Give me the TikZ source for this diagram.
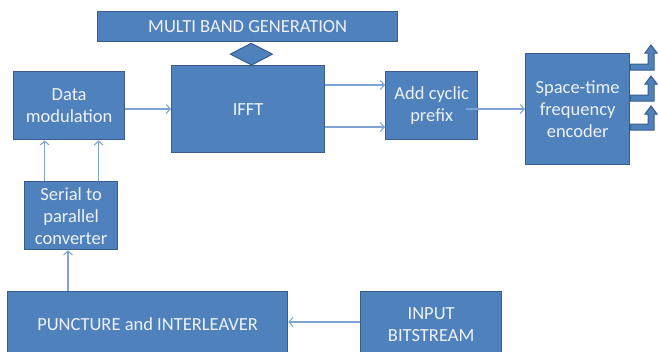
\documentclass[tikz,border=0pt]{standalone}
\usepackage{fontspec}
\setmainfont{Carlito}
\usetikzlibrary{arrows.meta,calc}
\definecolor{boxfill}{HTML}{4F81BD}
\definecolor{boxline}{HTML}{385D8A}
\definecolor{boxtext}{HTML}{EEF2F8}
\definecolor{arrcol}{HTML}{7FA4D2}
\tikzset{
  blk/.style={draw=boxline, line width=1.3pt, fill=boxfill, text=boxtext,
    font=\fontsize{18.5}{22}\selectfont, align=center, inner sep=0pt, anchor=north west},
  arr/.style={draw=arrcol, line width=1.1pt, -{Straight Barb[length=4pt,width=9pt]}},
  blockarrow/.style={draw=boxline, line width=1pt, fill=boxfill}
}
\begin{document}
\begin{tikzpicture}[x=1pt,y=-1pt]
\useasboundingbox (0,0) rectangle (658,351);
\node[blk, minimum width=300pt, minimum height=30pt] (MB) at (97,11) {MULTI BAND GENERATION};
\node[blk, minimum width=153pt, minimum height=87pt] (IFFT) at (171,65) {IFFT};
\node[blk, minimum width=111pt, minimum height=68pt] (DM) at (13,71) {Data\\modulation};
\node[blk, minimum width=93pt, minimum height=68pt] (SP) at (24,181) {Serial to\\parallel\\converter};
\node[blk, minimum width=92pt, minimum height=68pt] (ACP) at (385,71) {Add cyclic\\prefix};
\node[blk, minimum width=104pt, minimum height=111pt] (STF) at (525,53) {Space-time\\frequency\\encoder};
\node[blk, minimum width=280pt, minimum height=65pt] (PI) at (7,291) {PUNCTURE and INTERLEAVER};
\node[blk, minimum width=141pt, minimum height=65pt] (IB) at (360,291) {INPUT\\BITSTREAM};
% double-headed arrow between MULTI BAND and IFFT
\coordinate (dtop) at ($(MB.south)+(3.5,1)$);
\coordinate (dbot) at ($(IFFT.north)+(3.5,0)$);
\draw[blockarrow] (dtop) -- ($(dtop)!0.5!(dbot)+(21,0)$) -- (dbot) -- ($(dtop)!0.5!(dbot)+(-21,0)$) -- cycle;
% connectors
\draw[arr] (DM.east |- 0,109) -- (IFFT.west |- 0,109);
\draw[arr] (IFFT.east |- 0,85) -- (ACP.west |- 0,85);
\draw[arr] (IFFT.east |- 0,127) -- (ACP.west |- 0,127);
\draw[arr] ([xshift=-12pt]ACP.east |- 0,109) -- (STF.west |- 0,109);
\draw[arr] ([xshift=-26.5pt]SP.north) -- ([xshift=-26.5pt]SP.north |- DM.south);
\draw[arr] ([xshift=27.5pt]SP.north) -- ([xshift=27.5pt]SP.north |- DM.south);
\draw[arr] (PI.north -| 68,0) -- (SP.south -| 68,0);
\draw[arr] (IB.west |- 0,322) -- (PI.east |- 0,322);
% bent block arrows leaving the encoder
\foreach \yh/\yt in {67/45, 98/76, 127/106}{
  \draw[blockarrow] (STF.east |- 0,\yh+3) -- (654,\yh+3) -- (654,\yt+8) -- (657,\yt+8) -- (651,\yt)
    -- (645,\yt+8) -- (648,\yt+8) -- (648,\yh-3) -- (STF.east |- 0,\yh-3) -- cycle;
}
\end{tikzpicture}
\end{document}
